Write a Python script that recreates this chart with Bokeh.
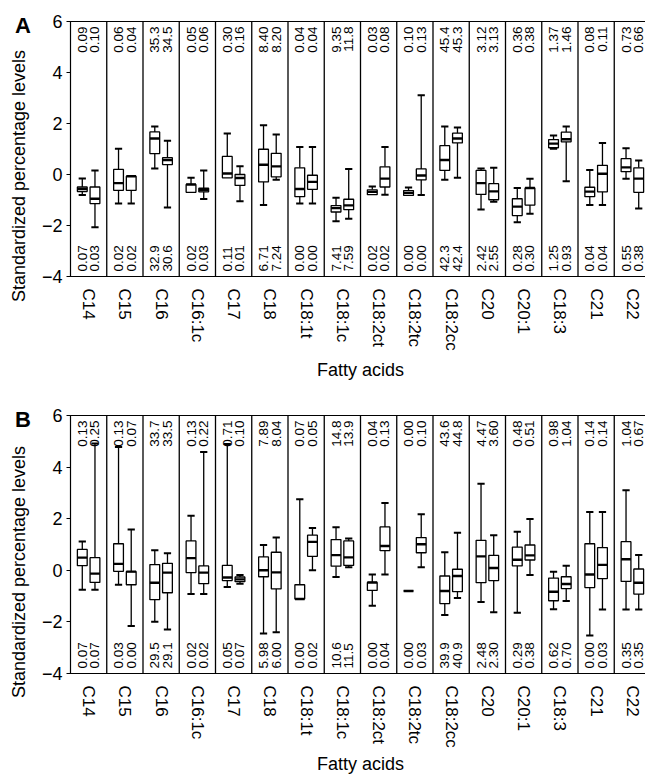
import math
from bokeh.plotting import figure
from bokeh.models import ColumnDataSource, Range1d, FactorRange, FixedTicker, Div
from bokeh.layouts import column, row
from bokeh.transform import dodge
from bokeh.core.properties import value
from bokeh.embed import file_html
from bokeh.resources import INLINE

categories = ["C14", "C15", "C16", "C16:1c", "C17", "C18", "C18:1t", "C18:1c",
              "C18:2ct", "C18:2tc", "C18:2cc", "C20", "C20:1", "C18:3", "C21", "C22"]
y_ticks = [-4, -2, 0, 2, 4, 6]
y_title = "Standardized percentage levels"
x_title = "Fatty acids"

# ---------------- Panel A ----------------
# left box of each pair
A1_low = [-0.80, -1.14, 0.24, -0.70, -0.13, -1.20, -1.14, -1.83, -0.79, -0.82, -0.21, -1.37, -1.87, 1.01, -1.20, -0.17]
A1_q1  = [-0.67, -0.62, 0.82, -0.70, -0.13, -0.29, -0.87, -1.47, -0.79, -0.82, 0.16, -0.78, -1.61, 1.05, -0.87, 0.11]
A1_med = [-0.57, -0.34, 1.41, -0.39, 0.04, 0.38, -0.57, -1.32, -0.68, -0.72, 0.57, -0.34, -1.26, 1.21, -0.67, 0.28]
A1_q3  = [-0.49, 0.20, 1.67, -0.39, 0.71, 0.99, 0.26, -1.22, -0.60, -0.63, 1.13, 0.16, -0.95, 1.37, -0.50, 0.62]
A1_high = [-0.16, 1.01, 1.88, -0.13, 1.61, 1.93, 1.08, -0.91, -0.47, -0.51, 1.88, 0.24, -0.53, 1.53, 0.18, 1.03]
# right box of each pair
A2_low = [-2.07, -1.14, -1.29, -0.96, -1.05, -0.21, -1.14, -1.74, -0.79, -0.80, -0.13, -1.07, -1.54, -0.26, -1.20, -1.33]
A2_q1  = [-1.14, -0.62, 0.39, -0.68, -0.43, -0.09, -0.58, -1.38, -0.49, -0.21, 1.24, -0.99, -1.20, 1.28, -0.68, -0.70]
A2_med = [-0.95, -0.07, 0.57, -0.61, -0.14, 0.32, -0.29, -1.21, -0.16, -0.04, 1.41, -0.66, -0.53, 1.38, 0.03, -0.16]
A2_q3  = [-0.49, -0.07, 0.66, -0.54, 0.00, 0.83, -0.03, -0.97, 0.30, 0.22, 1.62, -0.36, -0.53, 1.66, 0.36, 0.26]
A2_high = [0.16, -0.07, 1.32, 0.16, 0.32, 1.57, 1.08, 0.22, 1.08, 3.11, 1.84, 0.26, -0.17, 1.88, 1.24, 0.55]
A_top1 = ["0.09", "0.06", "35.3", "0.05", "0.30", "8.40", "0.04", "9.35", "0.03", "0.10", "45.4", "3.12", "0.36", "1.37", "0.08", "0.73"]
A_top2 = ["0.10", "0.04", "34.5", "0.06", "0.16", "8.20", "0.04", "11.8", "0.08", "0.13", "45.3", "3.13", "0.38", "1.46", "0.11", "0.66"]
A_bot1 = ["0.07", "0.02", "32.9", "0.02", "0.11", "6.71", "0.00", "7.41", "0.02", "0.00", "42.3", "2.42", "0.28", "1.25", "0.04", "0.55"]
A_bot2 = ["0.03", "0.02", "30.6", "0.03", "0.01", "7.24", "0.00", "7.59", "0.02", "0.00", "42.4", "2.55", "0.30", "0.93", "0.04", "0.38"]

# ---------------- Panel B ----------------
B1_low = [-0.75, -0.56, -1.99, -0.92, -0.65, -2.45, -1.11, -0.26, -1.37, -0.80, -1.73, -1.23, -1.65, -1.51, -2.53, -1.52]
B1_q1  = [0.18, -0.04, -1.14, -0.09, -0.40, -0.25, -1.11, 0.16, -0.78, -0.80, -1.29, -0.48, 0.17, -1.18, -0.67, -0.43]
B1_med = [0.49, 0.25, -0.48, 0.47, -0.28, 0.00, -1.11, 0.59, -0.47, -0.80, -0.80, 0.54, 0.41, -0.83, -0.16, 0.43]
B1_q3  = [0.81, 1.03, 0.22, 1.14, 0.19, 0.52, -0.56, 1.19, -0.47, -0.80, -0.22, 1.16, 0.90, -0.30, 1.03, 1.11]
B1_high = [1.12, 4.78, 0.78, 2.11, 4.90, 0.98, 2.75, 1.67, -0.16, -0.80, 0.70, 3.35, 1.49, -0.06, 2.26, 3.10]
B2_low = [-0.75, -2.16, -2.29, -0.92, -0.52, -2.40, 0.00, 0.12, -0.16, 0.12, -1.07, -1.63, -0.18, -1.19, -1.52, -1.52]
B2_q1  = [-0.47, -0.56, -0.87, -0.52, -0.44, -0.72, 0.54, 0.19, 0.76, 0.68, -0.83, -0.40, 0.40, -0.71, -0.32, -0.92]
B2_med = [-0.13, -0.05, -0.09, -0.09, -0.35, -0.08, 1.10, 0.50, 0.94, 1.01, -0.22, 0.09, 0.58, -0.53, 0.21, -0.48]
B2_q3  = [0.49, -0.05, 0.27, 0.17, -0.26, 0.70, 1.36, 1.14, 1.68, 1.27, 0.04, 0.58, 0.98, -0.25, 0.88, 0.05]
B2_high = [4.91, 1.58, 0.66, 4.59, -0.18, 1.27, 1.64, 1.23, 2.61, 2.17, 1.46, 1.36, 1.99, 0.18, 2.26, 0.59]
B_top1 = ["0.13", "0.13", "33.7", "0.13", "0.71", "7.89", "0.07", "14.8", "0.04", "0.00", "43.6", "4.47", "0.48", "0.98", "0.14", "1.04"]
B_top2 = ["0.25", "0.07", "33.5", "0.22", "0.10", "8.04", "0.05", "13.9", "0.13", "0.10", "44.8", "3.60", "0.51", "1.04", "0.14", "0.67"]
B_bot1 = ["0.07", "0.03", "29.5", "0.02", "0.05", "5.98", "0.00", "10.6", "0.00", "0.00", "39.9", "2.48", "0.29", "0.62", "0.00", "0.35"]
B_bot2 = ["0.07", "0.00", "29.1", "0.02", "0.07", "6.00", "0.02", "11.5", "0.04", "0.03", "40.9", "2.30", "0.38", "0.70", "0.03", "0.35"]

FONT = "Liberation Sans"
OFF = 0.175
BOXW = 0.27
CAPW = 0.2
SIDE_W = 38


def draw_group(p, off, low, q1, med, q3, high):
    src = ColumnDataSource(dict(cat=categories, low=low, q1=q1, med=med, q3=q3, high=high))
    xr = p.x_range
    p.segment(x0=dodge("cat", off, range=xr), x1=dodge("cat", off, range=xr),
              y0="q3", y1="high", source=src, line_color="black", line_width=1.3)
    p.segment(x0=dodge("cat", off, range=xr), x1=dodge("cat", off, range=xr),
              y0="q1", y1="low", source=src, line_color="black", line_width=1.3)
    p.vbar(x=dodge("cat", off, range=xr), width=BOXW, top="q3", bottom="q1", source=src,
           fill_color="white", line_color="black", line_width=1.3)
    p.segment(x0=dodge("cat", off - BOXW / 2, range=xr), x1=dodge("cat", off + BOXW / 2, range=xr),
              y0="med", y1="med", source=src, line_color="black", line_width=2.4)
    hi_idx = [i for i in range(len(categories)) if high[i] != q3[i]]
    lo_idx = [i for i in range(len(categories)) if low[i] != q1[i]]
    hsrc = ColumnDataSource(dict(cat=[categories[i] for i in hi_idx], y=[high[i] for i in hi_idx]))
    lsrc = ColumnDataSource(dict(cat=[categories[i] for i in lo_idx], y=[low[i] for i in lo_idx]))
    for s in (hsrc, lsrc):
        p.segment(x0=dodge("cat", off - CAPW / 2, range=xr), x1=dodge("cat", off + CAPW / 2, range=xr),
                  y0="y", y1="y", source=s, line_color="black", line_width=2.0)


def side(letter, height, ylab_cy, letter_top):
    # strip left of the plot holding the panel letter and the rotated y title
    html = (
        f'<div style="position:relative;width:{SIDE_W}px;height:{height}px;overflow:visible;">'
        f'<div style="position:absolute;left:15px;top:{letter_top}px;font-family:\'{FONT}\';'
        f'font-weight:bold;font-size:22px;line-height:22px;color:black;">{letter}</div>'
        f'<div style="position:absolute;left:19px;top:{ylab_cy}px;white-space:nowrap;'
        f'font-family:\'{FONT}\';font-size:18px;line-height:18px;color:black;'
        f'transform:translate(-50%,-50%) rotate(-90deg);">{y_title}</div>'
        f'</div>'
    )
    return Div(text=html, width=SIDE_W, height=height, margin=0)


def panel(g1, g2, tops, bots, frame_h, b_top, b_bottom, lab_standoff):
    p = figure(x_range=FactorRange(*categories, range_padding=0, factor_padding=0),
               y_range=Range1d(-4, 6), frame_width=580, frame_height=frame_h,
               min_border_left=64 - SIDE_W, min_border_right=0, min_border_top=b_top,
               min_border_bottom=b_bottom, output_backend="svg", toolbar_location=None,
               background_fill_color="white", border_fill_color="white")
    p.outline_line_color = "black"
    p.outline_line_width = 1.2
    p.xgrid.visible = False
    p.ygrid.visible = False

    # separators between fatty acids
    sep = ColumnDataSource(dict(cat=categories[:-1]))
    p.segment(x0=dodge("cat", 0.5, range=p.x_range), x1=dodge("cat", 0.5, range=p.x_range),
              y0=-4, y1=6, source=sep, line_color="black", line_width=1.3)

    draw_group(p, -OFF, *g1)
    draw_group(p, OFF, *g2)

    tsrc = ColumnDataSource(dict(cat=categories, t1=tops[0], t2=tops[1], b1=bots[0], b2=bots[1]))
    for off, col in ((-OFF, "t1"), (OFF, "t2")):
        p.text(x=dodge("cat", off, range=p.x_range), y=6, y_offset=5, text=col, source=tsrc,
               angle=math.pi / 2, text_align="right", text_baseline="middle",
               text_font=value(FONT), text_font_size="13.5px", text_color="black")
    for off, col in ((-OFF, "b1"), (OFF, "b2")):
        p.text(x=dodge("cat", off, range=p.x_range), y=-4, y_offset=-5, text=col, source=tsrc,
               angle=math.pi / 2, text_align="left", text_baseline="middle",
               text_font=value(FONT), text_font_size="13.5px", text_color="black")

    # axes
    p.yaxis.ticker = FixedTicker(ticks=y_ticks)
    p.yaxis.major_label_text_font = FONT
    p.yaxis.major_label_text_font_size = "18px"
    p.yaxis.major_label_text_color = "black"
    p.yaxis.major_tick_out = 4
    p.yaxis.major_tick_in = 0
    p.yaxis.minor_tick_line_color = None
    p.yaxis.axis_line_color = "black"
    p.yaxis.major_tick_line_color = "black"
    p.yaxis.major_label_standoff = 4

    p.xaxis.major_label_orientation = "vertical"
    p.xaxis.major_label_text_font = FONT
    p.xaxis.major_label_text_font_size = "17px"
    p.xaxis.major_label_text_color = "black"
    p.xaxis.major_tick_line_color = None
    p.xaxis.minor_tick_line_color = None
    p.xaxis.axis_line_color = "black"
    p.xaxis.major_label_standoff = 6
    p.xaxis.axis_label = x_title
    p.xaxis.axis_label_text_font = FONT
    p.xaxis.axis_label_text_font_size = "18px"
    p.xaxis.axis_label_text_font_style = "normal"
    p.xaxis.axis_label_text_color = "black"
    p.xaxis.axis_label_standoff = lab_standoff
    return p


HA = 21 + 255 + 116
HB = 23 + 258 + 98
pA = panel((A1_low, A1_q1, A1_med, A1_q3, A1_high), (A2_low, A2_q1, A2_med, A2_q3, A2_high),
           (A_top1, A_top2), (A_bot1, A_bot2), 255, 21, 116, 6)
pB = panel((B1_low, B1_q1, B1_med, B1_q3, B1_high), (B2_low, B2_q1, B2_med, B2_q3, B2_high),
           (B_top1, B_top2), (B_bot1, B_bot2), 258, 23, 98, 3)
sA = side("A", HA, 176, 15)
sB = side("B", HB, 180, 17)

layout = column(row(sA, pA, spacing=0), row(sB, pB, spacing=0), spacing=0)
open("out.html", "w").write(file_html(layout, INLINE))
